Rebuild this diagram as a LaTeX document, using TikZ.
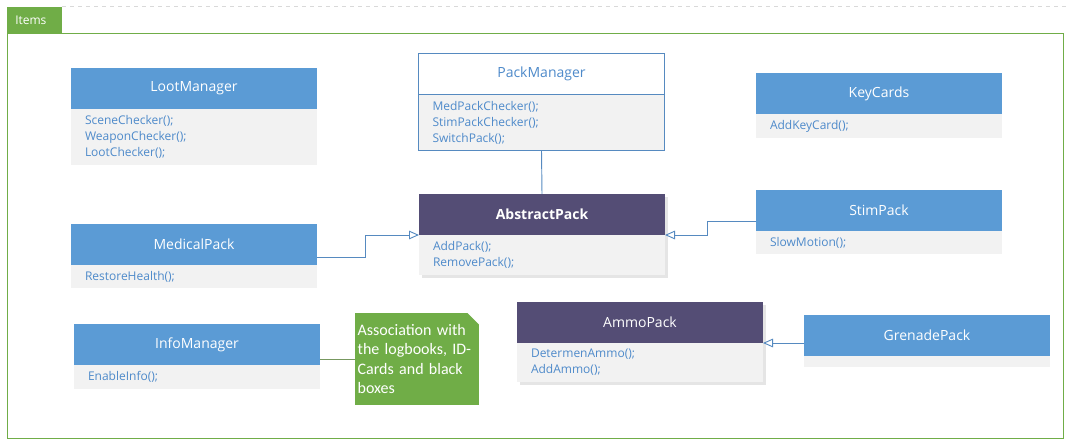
\documentclass[tikz,border=0pt]{standalone}
\usepackage{fontspec}
\setmainfont{Open Sans}
\newfontfamily\notefont{Carlito}
\usepackage{xcolor}
\definecolor{HeadBlue}{RGB}{91,155,213}
\definecolor{LineBlue}{RGB}{86,138,192}
\definecolor{TextBlue}{RGB}{78,138,202}
\definecolor{BodyGray}{RGB}{242,242,242}
\definecolor{DarkPurple}{RGB}{84,77,117}
\definecolor{NoteGreen}{RGB}{112,173,71}
\definecolor{White}{RGB}{255,255,255}
\usepackage{tikz}
\usetikzlibrary{positioning, arrows.meta, shadows}

\tikzset{
	head/.style		= {rectangle, fill=HeadBlue, text=White, minimum width=184.5pt, minimum height=30.75pt, inner sep=0pt, outer sep=0pt, font=\fontsize{10.5}{12}\selectfont},
	body/.style		= {rectangle, fill=BodyGray, text=TextBlue, text width=163.5pt, inner xsep=10.5pt, inner ysep=0pt, outer sep=0pt, align=left, font=\fontsize{9}{12}\selectfont},
	shade/.style	= {drop shadow={fill=black!10, opacity=1, shadow xshift=2.25pt, shadow yshift=-2.25pt}},
	inherit/.style	= {draw=LineBlue, line width=0.7pt, -{Triangle[open, length=7.5pt, width=6.5pt]}},
}

\begin{document}
\begin{tikzpicture}[x=0.75pt, y=-0.75pt]

		\useasboundingbox (0,0) rectangle (1071,445);

		% Frame
		\draw[dashed, black!15, line width=0.6pt] (62,6) -- (1068,6);
		\draw[NoteGreen, line width=0.75pt] (7,34) rectangle (1063,438);
		\node[fill=NoteGreen, text=White, anchor=north west, minimum width=41.25pt, minimum height=20.25pt, text width=29.25pt, inner xsep=6pt, inner ysep=0pt, align=left, font=\fontsize{9}{10}\selectfont] (itemsTab) at (7,7) {Items};

		% Classes
		\node[head] (lootHead) at (194,88.5) {LootManager};
		\node[body, minimum height=42pt, below=0pt of lootHead] (lootBody) {SceneChecker();\\WeaponChecker();\\LootChecker();};

		\node[head, fill=White, text=TextBlue, draw=LineBlue, line width=0.6pt] (packHead) at (541.5,74) {PackManager};
		\node[body, draw=LineBlue, line width=0.6pt, minimum height=42pt, below=0pt of packHead] (packBody) {MedPackChecker();\\StimPackChecker();\\SwitchPack();};

		\node[head, shade, fill=DarkPurple, font=\fontsize{10.5}{12}\selectfont\bfseries] (absHead) at (542,214.5) {AbstractPack};
		\node[body, shade, minimum height=30pt, below=0pt of absHead] (absBody) {AddPack();\\RemovePack();};

		\node[head] (keyHead) at (879,93.5) {KeyCards};
		\node[body, minimum height=18pt, below=0pt of keyHead] (keyBody) {AddKeyCard();};

		\node[head] (stimHead) at (879,210.5) {StimPack};
		\node[body, minimum height=17.25pt, below=0pt of stimHead] (stimBody) {SlowMotion();};

		\node[head] (medHead) at (194,244.5) {MedicalPack};
		\node[body, minimum height=17.25pt, below=0pt of medHead] (medBody) {RestoreHealth();};

		\node[head] (infoHead) at (197,344.5) {InfoManager};
		\node[body, minimum height=18pt, below=0pt of infoHead] (infoBody) {EnableInfo();};

		\node[head, shade, fill=DarkPurple] (ammoHead) at (640,322.5) {AmmoPack};
		\node[body, shade, minimum height=29.25pt, below=0pt of ammoHead] (ammoBody) {DetermenAmmo();\\AddAmmo();};

		\node[head] (grenHead) at (927,335.5) {GrenadePack};
		\node[body, minimum height=8.25pt, below=0pt of grenHead] (grenBody) {};

		% Note
		\node[fill=NoteGreen, text=White, minimum width=93pt, minimum height=69pt, text width=89pt, inner xsep=2pt, align=left, font=\notefont\fontsize{12}{14.6}\selectfont] (assocNote) at (417,359) {Association with\\the logbooks, ID-\\Cards and black\\boxes};
		\fill[White] ([xshift=-9pt]assocNote.north east) -- (assocNote.north east) -- ([yshift=-9pt]assocNote.north east) -- cycle;

		% Lines
		\draw[LineBlue, line width=0.7pt] (packBody.south) -- (absHead.north);
		\draw[inherit] ([yshift=-9.4pt]medHead.east) -- ++(48,0) |- (absHead.south west);
		\draw[inherit] ([yshift=-8.6pt]stimHead.west) -- ++(-49,0) |- (absHead.south east);
		\draw[inherit] (ammoHead.south east -| grenHead.west) -- (ammoHead.south east);
		\draw[NoteGreen!55!gray, line width=0.6pt] (infoHead.east |- assocNote.west) -- (assocNote.west);

\end{tikzpicture}
\end{document}
